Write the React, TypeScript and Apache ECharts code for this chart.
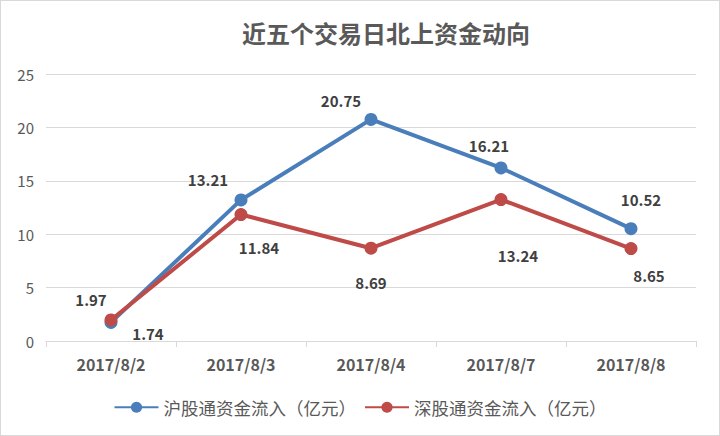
import React, { useEffect, useRef } from "react";
import * as echarts from "echarts";

const categories = ["2017/8/2", "2017/8/3", "2017/8/4", "2017/8/7", "2017/8/8"];
const shValues = [1.74, 13.21, 20.75, 16.21, 10.52];
const szValues = [1.97, 11.84, 8.69, 13.24, 8.65];
const shLabelOffsets: [number, number][] = [[37, 11], [-33, -20], [-30, -19], [-12, -22], [10, -29]];
const szLabelOffsets: [number, number][] = [[-20, -20], [18, 33], [0, 34], [17, 56], [18, 27]];
const seriesNames = ["沪股通资金流入（亿元）", "深股通资金流入（亿元）"];
const yTicks = { min: 0, max: 25, interval: 5 };
const title = "近五个交易日北上资金动向";

const FONT = "'Noto Sans CJK SC', 'Microsoft YaHei', sans-serif";

export default function App() {
  const ref = useRef<HTMLDivElement>(null);
  useEffect(() => {
    if (!ref.current) return;
    const chart = echarts.init(ref.current, null, { renderer: "svg" });
    const mk = (vals: number[], offs: [number, number][]) =>
      vals.map((v, i) => ({
        value: v,
        label: { offset: offs[i] },
      }));
    const labelStyle = {
      show: true,
      position: "inside",
      fontFamily: FONT,
      fontSize: 15,
      fontWeight: "bold",
      color: "#404040",
    };
    chart.setOption({
      animation: false,
      backgroundColor: "#ffffff",
      title: {
        text: title,
        left: 380,
        top: 14,
        textAlign: "center",
        textStyle: { fontFamily: FONT, fontSize: 24, fontWeight: "bold", color: "#595959" },
      },
      legend: {
        bottom: 14,
        left: "center",
        itemWidth: 44,
        itemHeight: 14,
        itemGap: 8,
        textStyle: { fontFamily: FONT, fontSize: 17.5, color: "#595959" },
        data: seriesNames,
      },
      grid: { left: 45, right: 23, top: 73, bottom: 94, containLabel: false },
      xAxis: {
        type: "category",
        data: categories,
        boundaryGap: true,
        axisLine: { lineStyle: { color: "#d9d9d9", width: 1 } },
        axisTick: { show: true, length: 6, lineStyle: { color: "#d9d9d9" } },
        axisLabel: { fontFamily: FONT, fontSize: 16, fontWeight: "bold", color: "#595959", margin: 15 },
      },
      yAxis: {
        type: "value",
        min: yTicks.min,
        max: yTicks.max,
        interval: yTicks.interval,
        axisLine: { show: false },
        axisTick: { show: false },
        axisLabel: { fontFamily: FONT, fontSize: 15, color: "#595959", margin: 12 },
        splitLine: { lineStyle: { color: "#d9d9d9", width: 1 } },
      },
      series: [
        {
          name: seriesNames[0],
          type: "line",
          data: mk(shValues, shLabelOffsets),
          symbol: "circle",
          symbolSize: 13,
          lineStyle: { color: "#4a7ebb", width: 4 },
          itemStyle: { color: "#4a7ebb" },
          z: 2,
          label: labelStyle,
        },
        {
          name: seriesNames[1],
          type: "line",
          data: mk(szValues, szLabelOffsets),
          symbol: "circle",
          symbolSize: 13,
          lineStyle: { color: "#be4b48", width: 4 },
          itemStyle: { color: "#be4b48" },
          z: 3,
          label: labelStyle,
        },
      ],
    });
    return () => chart.dispose();
  }, []);
  return (
    <div
      ref={ref}
      style={{
        position: "absolute",
        left: 0,
        top: 0,
        width: 720,
        height: 436,
        boxSizing: "border-box",
        border: "1px solid #d9d9d9",
        background: "#fff",
      }}
    />
  );
}
